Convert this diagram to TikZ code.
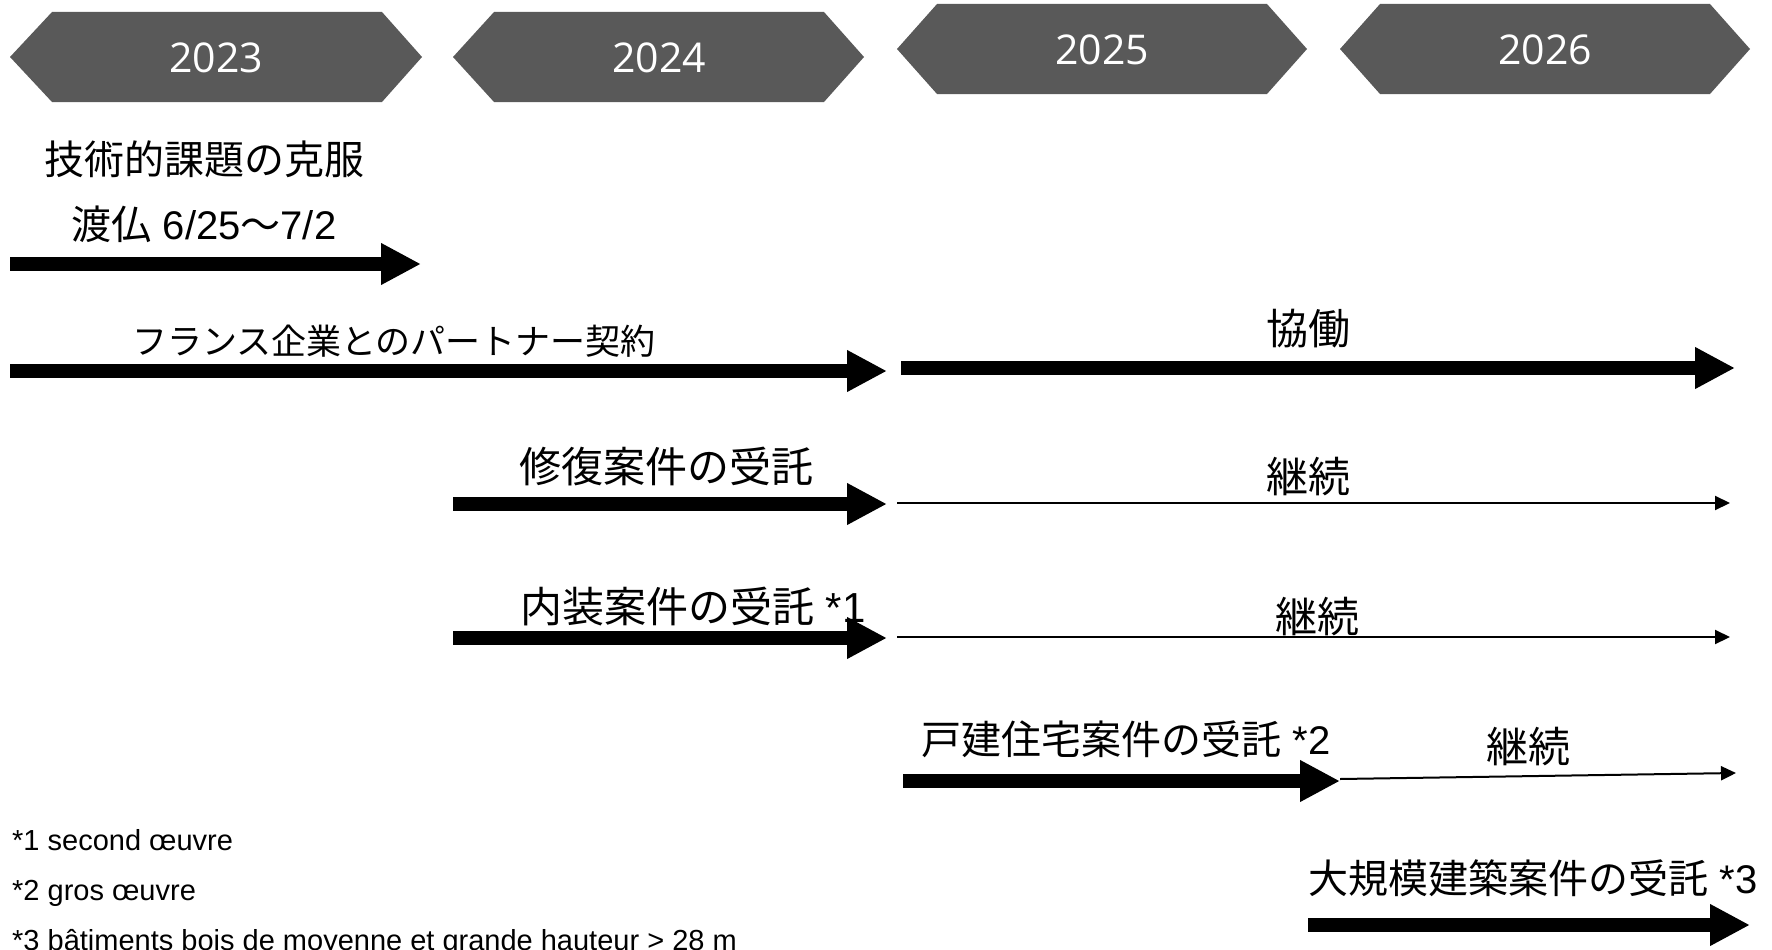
\documentclass[tikz,border=0pt]{standalone}
\usepackage{fontspec}
\setmainfont{Liberation Sans}
\newfontfamily\cjk{Noto Sans CJK JP}
\newfontfamily\yearfont{Open Sans}
\usetikzlibrary{arrows.meta}
\definecolor{hexgray}{HTML}{595959}
\newcommand\jtxt[1]{{\cjk #1}}
\tikzset{
  yearbox/.style={fill=hexgray, draw=none},
  yeartext/.style={text=white, font=\yearfont\fontsize{41}{49}\selectfont, inner sep=0pt},
  lbl/.style={font=\fontsize{40}{48}\selectfont, inner sep=0pt},
  lblb/.style={font=\fontsize{42}{50}\selectfont, inner sep=0pt},
  lbls/.style={font=\fontsize{35}{42}\selectfont, inner sep=0pt},
  bigarrow/.style={line width=14pt, -{Triangle[width=39pt,length=40pt]}},
  thinarrow/.style={line width=2pt, -{Triangle[width=14pt,length=15pt]}},
  note/.style={font=\fontsize{29}{35}\selectfont, anchor=base west, inner sep=0pt},
}
\begin{document}
\begin{tikzpicture}[x=1pt,y=-1pt]
\useasboundingbox (0,0) rectangle (1772,950);
\clip (0,0) rectangle (1772,950);
% year banners
\fill[yearbox] (10,57) -- (52,12) -- (382,12) -- (422,57) -- (382,102) -- (52,102) -- cycle;
\fill[yearbox] (453,57) -- (494,12) -- (824,12) -- (864,57) -- (824,102) -- (494,102) -- cycle;
\fill[yearbox] (897,49) -- (937,4) -- (1267,4) -- (1307,49) -- (1267,94) -- (937,94) -- cycle;
\fill[yearbox] (1340,49) -- (1380,4) -- (1710,4) -- (1750,49) -- (1710,94) -- (1380,94) -- cycle;
\node[yeartext] (y23) at (216,58) {2023};
\node[yeartext] (y24) at (659,58) {2024};
\node[yeartext] (y25) at (1102,50) {2025};
\node[yeartext] (y26) at (1545,50) {2026};
% labels
\node[lbl] (t1) at (204,159) {\jtxt{技術的課題の克服}};
\node[lbl] (t2) at (204,224) {\jtxt{渡仏} 6/25\jtxt{〜}7/2};
\node[lbls] (t3) at (394,341) {\jtxt{フランス企業とのパートナー契約}};
\node[lblb] (t4) at (1308,329) {\jtxt{協働}};
\node[lblb] (t5) at (666,467) {\jtxt{修復案件の受託}};
\node[lblb] (t6) at (1308,477) {\jtxt{継続}};
\node[lblb] (t7) at (693,607) {\jtxt{内装案件の受託} *1};
\node[lblb] (t8) at (1317,617) {\jtxt{継続}};
\node[lbl] (t9) at (1126,739) {\jtxt{戸建住宅案件の受託} *2};
\node[lblb] (t10) at (1528,747) {\jtxt{継続}};
\node[lbl] (t11) at (1533,878) {\jtxt{大規模建築案件の受託} *3};
% arrow end points
\coordinate (a1s) at (10,264);  \coordinate (a1e) at (421,264);
\coordinate (a2s) at (10,371);  \coordinate (a2e) at (887,371);
\coordinate (a3s) at (901,368); \coordinate (a3e) at (1735,368);
\coordinate (a4s) at (453,504); \coordinate (a4e) at (887,504);
\coordinate (b4s) at (897,503); \coordinate (b4e) at (1730,503);
\coordinate (a5s) at (453,638); \coordinate (a5e) at (887,638);
\coordinate (b5s) at (897,637); \coordinate (b5e) at (1730,637);
\coordinate (a6s) at (903,781); \coordinate (a6e) at (1340,781);
\coordinate (b6s) at (1340,779); \coordinate (b6e) at (1736,773);
\coordinate (a7s) at (1308,925); \coordinate (a7e) at (1750,925);
\draw[bigarrow] (a1s) -- (a1e);
\draw[bigarrow] (a2s) -- (a2e);
\draw[bigarrow] (a3s) -- (a3e);
\draw[bigarrow] (a4s) -- (a4e);
\draw[thinarrow] (b4s) -- (b4e);
\draw[bigarrow] (a5s) -- (a5e);
\draw[thinarrow] (b5s) -- (b5e);
\draw[bigarrow] (a6s) -- (a6e);
\draw[thinarrow] (b6s) -- (b6e);
\draw[bigarrow] (a7s) -- (a7e);
% footnotes
\node[note] (n1) at (12,850) {*1 second œuvre};
\node[note] (n2) at (12,900) {*2 gros œuvre};
\node[note] (n3) at (12,950) {*3 bâtiments bois de moyenne et grande hauteur > 28 m};
\end{tikzpicture}
\end{document}
